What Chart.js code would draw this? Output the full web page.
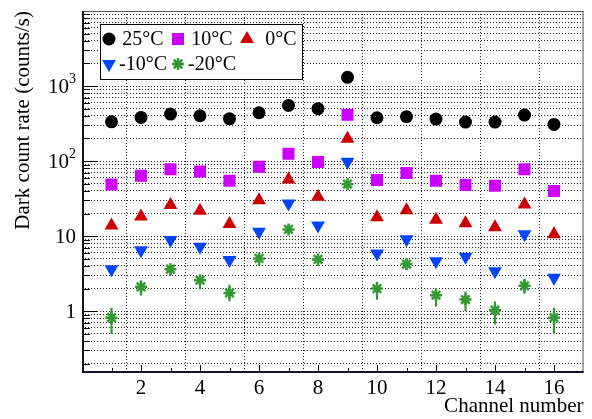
<!DOCTYPE html>
<html>
<head>
<meta charset="utf-8">
<script src="https://cdn.jsdelivr.net/npm/chart.js@4.4.1/dist/chart.umd.min.js"></script>
<style>
  html, body { margin: 0; padding: 0; background: #fff; }
  #wrap { width: 592px; height: 419px; }
</style>
</head>
<body>
<div id="wrap"><canvas id="chart" width="592" height="419"></canvas></div>
<script>
const CHANNELS = [1, 2, 3, 4, 5, 6, 7, 8, 9, 10, 11, 12, 13, 14, 15, 16];

const RATE_25C = [334, 382, 423, 402, 366, 441, 552, 499, 1306, 378, 390, 363, 331, 331, 410, 308];
const RATE_10C = [48.9, 63.7, 78, 72.8, 54.6, 84, 125, 97, 415, 55.8, 69.2, 54.6, 47.9, 46.9, 78, 39.8];
const RATE_0C = [13.9, 18.3, 25.9, 21.8, 14.5, 30, 57, 33.4, 198, 17.8, 22.2, 16.5, 14.8, 13.1, 26.3, 10.6];
const RATE_M10C = [3.63, 6.5, 8.85, 7.2, 4.79, 11.4, 27.3, 13.9, 98, 5.88, 9.1, 4.64, 5.3, 3.41, 10.6, 2.78];
const RATE_M20C = [0.82, 2.11, 3.63, 2.59, 1.75, 5.04, 12.3, 4.89, 49.3, 2.0, 4.24, 1.63, 1.43, 1.03, 2.18, 0.82];
const ERR_LO_M20C = [0.5, 1.63, 3.0, 1.96, 1.37, 4.1, 10.8, 4.1, 45, 1.43, 3.6, 1.17, 1.01, 0.67, 1.72, 0.51];
const ERR_HI_M20C = [1.1, 2.53, 4.1, 3.0, 2.22, 5.9, 13.8, 5.75, 54, 2.45, 4.9, 2.0, 1.81, 1.33, 2.67, 1.1];

const Y_TICKS = [
  0.2, 0.3, 0.4, 0.5, 0.6, 0.7, 0.8, 0.9,
  1, 2, 3, 4, 5, 6, 7, 8, 9,
  10, 20, 30, 40, 50, 60, 70, 80, 90,
  100, 200, 300, 400, 500, 600, 700, 800, 900,
  1000, 2000, 3000, 4000, 5000, 6000, 7000, 8000, 9000, 10000,
];
// [base, exponent] of the labelled decades
const Y_LABELS = { 1: ["1", ""], 10: ["10", ""], 100: ["10", "2"], 1000: ["10", "3"] };
const X_LABELS = [2, 4, 6, 8, 10, 12, 14, 16];

const FONT = "'Liberation Serif', 'DejaVu Serif', serif";

function pts(values) {
  return values.map((v, i) => ({ x: CHANNELS[i], y: v }));
}

const SERIES = [
  { label: "25\u00b0C", data: RATE_25C, color: "#000000", style: "circle", radius: 6.5 },
  { label: "10\u00b0C", data: RATE_10C, color: "#cc00ff", style: "rect", radius: 8.5 },
  { label: "0\u00b0C", data: RATE_0C, color: "#cc0000", style: "triangle", radius: 8 },
  { label: "-10\u00b0C", data: RATE_M10C, color: "#0044ff", style: "triangle", radius: 8, rotation: 180 },
  { label: "-20\u00b0C", data: RATE_M20C, color: "#339933", style: "star", radius: 6, width: 2.5 },
];

const datasets = SERIES.map((s) => ({
  type: "scatter",
  label: s.label,
  data: pts(s.data),
  pointStyle: s.style,
  pointRadius: s.radius,
  pointRotation: s.rotation || 0,
  backgroundColor: s.color,
  borderColor: s.color,
  borderWidth: s.width || 0,
  showLine: false,
}));

// error bars of the -20°C points, drawn as thin floating bars
datasets.push({
  type: "bar",
  label: "err",
  data: ERR_LO_M20C.map((lo, i) => ({ x: CHANNELS[i], y: [lo, ERR_HI_M20C[i]] })),
  backgroundColor: "#339933",
  barThickness: 1.5,
});

// ROOT style frame, inner tick marks, exponent labels and legend box
const rootFrame = {
  id: "rootFrame",
  afterDatasetsDraw(chart) {
    const { ctx, chartArea: a, scales } = chart;
    ctx.save();
    ctx.strokeStyle = "#000";
    ctx.lineWidth = 1;
    ctx.beginPath();
    for (const t of scales.y.ticks) {
      const y = Math.round(scales.y.getPixelForValue(t.value)) + 0.5;
      const len = Y_LABELS[t.value] || t.value === 10000 ? 15 : 8;
      ctx.moveTo(a.left, y);
      ctx.lineTo(a.left + len, y);
    }
    for (const t of scales.x.ticks) {
      if (t.value <= 0 || t.value >= 17) continue;
      const x = Math.round(scales.x.getPixelForValue(t.value)) + 0.5;
      const len = t.value % 2 === 0 ? 8 : 5;
      ctx.moveTo(x, a.bottom);
      ctx.lineTo(x, a.bottom - len);
    }
    ctx.stroke();
    ctx.strokeStyle = "#555";
    ctx.strokeRect(a.left + 0.5, a.top + 0.5, a.width - 1, a.height - 1);
    ctx.strokeStyle = "#111133";
    ctx.lineWidth = 2;
    ctx.beginPath();
    ctx.moveTo(a.left + 1, a.top);
    ctx.lineTo(a.left + 1, a.bottom - 1);
    ctx.lineTo(a.right, a.bottom - 1);
    ctx.stroke();

    // y labels with real superscripts
    ctx.fillStyle = "#000";
    ctx.textBaseline = "middle";
    ctx.textAlign = "right";
    for (const key in Y_LABELS) {
      const [base, exp] = Y_LABELS[key];
      const y = scales.y.getPixelForValue(Number(key));
      let right = a.left - 6;
      if (exp) {
        ctx.font = "14px " + FONT;
        ctx.fillText(exp, right, y - 7);
        right -= ctx.measureText(exp).width;
      }
      ctx.font = "21px " + FONT;
      ctx.fillText(base, right, y + 1);
    }

    // legend
    const box = { x: 100.5, y: 24.5, w: 202, h: 55 };
    ctx.fillStyle = "#fff";
    ctx.fillRect(box.x, box.y, box.w, box.h);
    ctx.strokeStyle = "#000";
    ctx.lineWidth = 1;
    ctx.strokeRect(box.x, box.y, box.w, box.h);
    ctx.font = "20px " + FONT;
    ctx.textAlign = "center";
    ctx.textBaseline = "middle";
    SERIES.forEach((s, i) => {
      const col = i < 3 ? i : i - 3;
      const row = i < 3 ? 0 : 1;
      const mx = 109 + col * 69;
      const my = 39 + row * 25;
      ctx.fillStyle = s.color;
      ctx.strokeStyle = s.color;
      ctx.lineWidth = s.width || 0;
      Chart.helpers.drawPoint(ctx, {
        pointStyle: s.style,
        radius: s.radius,
        rotation: s.rotation || 0,
        borderWidth: s.width || 0,
      }, mx, my);
      ctx.fillStyle = "#000";
      ctx.fillText(s.label, mx + 34, my + 1);
    });
    ctx.restore();
  },
};

new Chart(document.getElementById("chart"), {
  type: "scatter",
  data: { datasets },
  options: {
    responsive: false,
    animation: false,
    layout: { padding: { left: 0, right: 8, top: 11, bottom: 0 } },
    plugins: { legend: { display: false }, tooltip: { enabled: false } },
    scales: {
      x: {
        type: "linear",
        min: 0,
        max: 17,
        offset: false,
        afterFit: (s) => { s.height = 46; },
        afterBuildTicks: (s) => {
          s.ticks = CHANNELS.map((v) => ({ value: v }));
        },
        ticks: {
          autoSkip: false,
          maxRotation: 0,
          padding: 3,
          color: "#000",
          font: { family: FONT, size: 21 },
          callback: (v) => (X_LABELS.includes(v) ? String(v) : ""),
        },
        grid: {
          drawTicks: false,
          lineWidth: 1,
          color: (c) => (c.tick && c.tick.value % 2 === 0 ? "#222" : "rgba(0,0,0,0)"),
        },
        border: { display: false, dash: [1, 2] },
        title: {
          display: true,
          text: "Channel number",
          align: "end",
          color: "#000",
          font: { family: FONT, size: 21 },
          padding: { top: 0, bottom: 0 },
        },
      },
      y: {
        type: "logarithmic",
        min: 0.15,
        max: 10000,
        afterFit: (s) => { s.width = 82; },
        afterBuildTicks: (s) => {
          s.ticks = Y_TICKS.map((v) => ({ value: v }));
        },
        ticks: { display: false },
        grid: { drawTicks: false, lineWidth: 1, color: "#222" },
        border: { display: false, dash: [1, 2] },
        title: {
          display: true,
          text: "Dark count rate (counts/s)",
          align: "end",
          color: "#000",
          font: { family: FONT, size: 21 },
          padding: { top: 11, bottom: 0 },
        },
      },
    },
  },
  plugins: [rootFrame],
});
</script>
</body>
</html>
